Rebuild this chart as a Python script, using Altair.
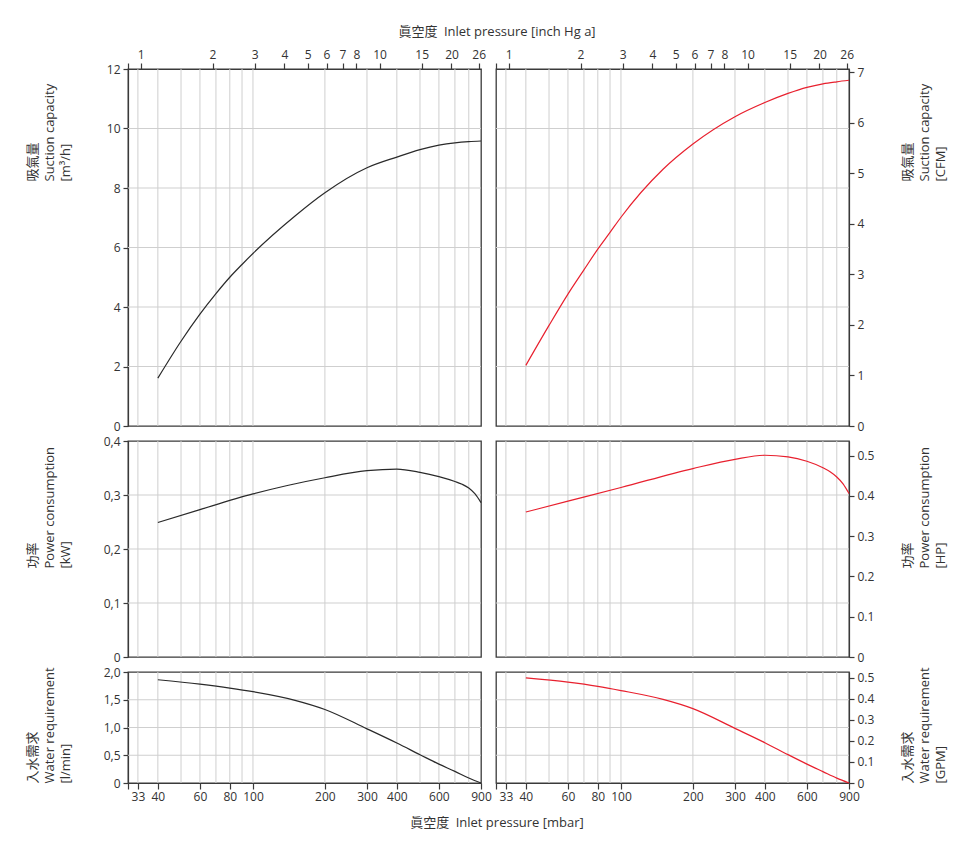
import altair as alt
import pandas as pd

FONT = "Open Sans, Noto Sans CJK TC, sans-serif"
GRID = "#cfcfcf"
DARK = "#3a3a3a"
RED = "#e8202e"
BLACK = "#2a2a2a"

# ---- data (x = inlet pressure, mbar) ----
suction_p = [40, 50, 60, 70, 80, 90, 100, 150, 200, 300, 400, 500, 600, 700, 800, 900]
suction_m3h = [1.61, 2.85, 3.76, 4.45, 5.0, 5.43, 5.80, 7.06, 7.84, 8.68, 9.04, 9.29,
               9.44, 9.52, 9.56, 9.58]
suction_cfm = [1.2, 1.99, 2.61, 3.09, 3.5, 3.83, 4.13, 5.08, 5.58, 6.12, 6.40, 6.58,
               6.70, 6.77, 6.81, 6.84]

power_p = [40, 60, 100, 200, 300, 400, 500, 600, 700, 750, 800, 850, 900]
power_kw = [0.249, 0.273, 0.302, 0.332, 0.345, 0.348, 0.342, 0.334, 0.325, 0.320,
            0.313, 0.302, 0.286]
power_hp = [0.36, 0.387, 0.421, 0.468, 0.491, 0.501, 0.497, 0.486, 0.470, 0.460,
            0.447, 0.430, 0.406]

water_p = [40, 60, 80, 100, 150, 200, 300, 400, 500, 600, 700, 800, 900]
water_lmin = [1.86, 1.78, 1.71, 1.645, 1.49, 1.325, 0.976, 0.72, 0.51, 0.34, 0.21, 0.09, 0.0]
water_gpm = [0.50, 0.48, 0.46, 0.44, 0.398, 0.354, 0.26, 0.192, 0.135, 0.09, 0.054, 0.023, 0.0]

# ---- axis ticks / grid ----
mbar_ticks = [30, 33, 40, 60, 80, 100, 200, 300, 400, 600, 900]
inhg_ticks = [1, 2, 3, 4, 5, 6, 7, 8, 10, 15, 20, 26]
MBAR_PER_INHG = 33.8639
x_grid = [33, 40, 50, 60, 70, 80, 90, 100, 200, 300, 400, 500, 600, 700, 800]

suction_ticks_l = [0, 2, 4, 6, 8, 10, 12]
suction_ticks_r = [0, 1, 2, 3, 4, 5, 6, 7]
power_ticks_l = [0, 0.1, 0.2, 0.3, 0.4]
power_ticks_r = [0, 0.1, 0.2, 0.3, 0.4, 0.5]
water_ticks_l = [0, 0.5, 1.0, 1.5, 2.0]
water_ticks_r = [0, 0.1, 0.2, 0.3, 0.4, 0.5]

grid_suction = [2, 4, 6, 8, 10]
grid_power = [0.1, 0.2, 0.3]
grid_water = [0.5, 1.0, 1.5]
M3H_PER_CFM = 1.699
KW_PER_HP = 0.7457
LMIN_PER_GPM = 3.785

TOP_TITLE = "眞空度\u2002Inlet pressure [inch Hg a]"
BOTTOM_TITLE = "眞空度\u2002Inlet pressure [mbar]"

W = 353
H1, H2, H3 = 357, 216, 111
GAP = 15

xscale = alt.Scale(type="log", domain=[30, 900], nice=False)


def top_axis(with_title):
    if with_title:
        kw = dict(title=TOP_TITLE, titleX=W + GAP / 2 + 8, titleY=-38,
                  titleAlign="center", titleBaseline="middle", titleAngle=0)
    else:
        kw = dict(title=None)
    return alt.Axis(
        orient="top", values=[30] + [v * MBAR_PER_INHG for v in inhg_ticks],
        labelExpr="datum.value < 31 ? '' : format(round(datum.value / 33.8639), 'd')",
        grid=False, tickSize=6, labelPadding=2, labelOverlap=False,
        labelFlush=False, **kw,
    )


def bottom_axis(with_title):
    if with_title:
        kw = dict(title=BOTTOM_TITLE, titleX=W + GAP / 2 + 8, titleY=39,
                  titleAlign="center", titleBaseline="middle", titleAngle=0)
    else:
        kw = dict(title=None)
    return alt.Axis(
        orient="bottom", values=mbar_ticks,
        labelExpr="datum.value < 31 ? '' : format(datum.value, 'd')",
        grid=False, tickSize=6, labelPadding=2, labelOverlap=False,
        labelFlush=False, **kw,
    )


LEFT_EXPR_INT = "format(datum.value, 'd')"
LEFT_EXPR_DEC = "datum.value == 0 ? '0' : replace(format(datum.value, '.1f'), '.', ',')"
RIGHT_EXPR_INT = "format(datum.value, 'd')"
RIGHT_EXPR_DEC = "datum.value == 0 ? '0' : format(datum.value, '.1f')"


def panel(xs, ys, color, ydomain, yticks, ygrid, side, label_expr, title, title_y,
          height, xaxis):
    yscale = alt.Scale(domain=ydomain, nice=False, zero=False)
    title_x = -101.5 if side == "left" else 52.5
    yaxis = alt.Axis(
        orient=side, values=yticks, labelExpr=label_expr, title=title,
        titleAngle=270, titleAlign="left", titleBaseline="top",
        titleX=title_x, titleY=title_y, titleLineHeight=16.5,
        tickSize=5, labelPadding=3, grid=False, labelOverlap=False,
    )
    xg = alt.Chart(pd.DataFrame({"g": x_grid})).mark_rule(
        color=GRID, strokeWidth=1).encode(
        x=alt.X("g:Q", scale=xscale, axis=None))
    yg = alt.Chart(pd.DataFrame({"h": ygrid})).mark_rule(
        color=GRID, strokeWidth=1).encode(
        y=alt.Y("h:Q", scale=yscale, axis=None))
    line = alt.Chart(pd.DataFrame({"p": xs, "v": ys})).mark_line(
        color=color, strokeWidth=1.2, interpolate="monotone").encode(
        x=alt.X("p:Q", scale=xscale, axis=xaxis),
        y=alt.Y("v:Q", scale=yscale, axis=yaxis))
    return alt.layer(xg, yg, line).resolve_axis(
        x="independent", y="independent"
    ).properties(width=W, height=height)


p11 = panel(suction_p, suction_m3h, BLACK, [0, 12], suction_ticks_l, grid_suction,
            "left", LEFT_EXPR_INT, ["吸氣量", "Suction capacity", "[m³/h]"], 112, H1,
            top_axis(True))
p12 = panel(suction_p, suction_cfm, RED, [0, 12 / M3H_PER_CFM], suction_ticks_r,
            [g / M3H_PER_CFM for g in grid_suction],
            "right", RIGHT_EXPR_INT, ["吸氣量", "Suction capacity", "[CFM]"], 112, H1,
            top_axis(False))

p21 = panel(power_p, power_kw, BLACK, [0, 0.4], power_ticks_l, grid_power,
            "left", LEFT_EXPR_DEC, ["功率", "Power consumption", "[kW]"], 127, H2, None)
p22 = panel(power_p, power_hp, RED, [0, 0.4 / KW_PER_HP], power_ticks_r,
            [g / KW_PER_HP for g in grid_power],
            "right", RIGHT_EXPR_DEC, ["功率", "Power consumption", "[HP]"], 127, H2, None)

p31 = panel(water_p, water_lmin, BLACK, [0, 2.0], water_ticks_l, grid_water,
            "left", LEFT_EXPR_DEC, ["入水需求", "Water requirement", "[l/min]"], 111, H3,
            bottom_axis(True))
p32 = panel(water_p, water_gpm, RED, [0, 2.0 / LMIN_PER_GPM], water_ticks_r,
            [g / LMIN_PER_GPM for g in grid_water],
            "right", RIGHT_EXPR_DEC, ["入水需求", "Water requirement", "[GPM]"], 111, H3,
            bottom_axis(False))

chart = alt.concat(
    p11, p12, p21, p22, p31, p32, columns=2,
    spacing={"row": 15, "column": GAP}, bounds="flush",
).properties(
    padding={"left": 17, "top": 16, "right": 5, "bottom": 5},
).configure_view(
    stroke=DARK, strokeWidth=1.3,
).configure_axis(
    labelFont=FONT, titleFont=FONT, labelColor="#333", titleColor="#333",
    domainColor=DARK, tickColor=DARK, labelFontSize=12, titleFontSize=13,
    titleFontWeight="normal", domainWidth=1.2, tickWidth=1.2,
)

chart.save("out.html", embed_options={"renderer": "svg", "actions": False})
